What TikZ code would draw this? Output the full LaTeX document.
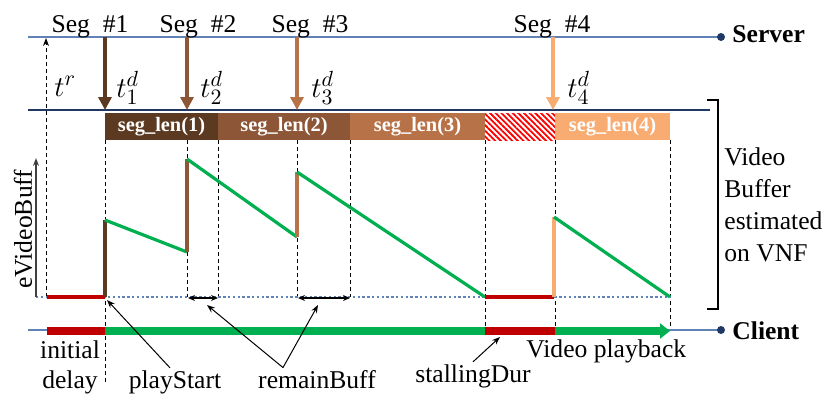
\documentclass[tikz,border=0pt]{standalone}
\usepackage{fontspec}
\setmainfont{Liberation Serif}
\usetikzlibrary{arrows.meta,patterns.meta}

\definecolor{segA}{RGB}{92,58,33}
\definecolor{segB}{RGB}{140,86,55}
\definecolor{segC}{RGB}{184,114,72}
\definecolor{segD}{RGB}{248,172,114}
\definecolor{playgreen}{RGB}{0,176,80}
\definecolor{stallred}{RGB}{192,0,0}
\definecolor{linkblue}{RGB}{96,130,180}
\definecolor{navy}{RGB}{31,56,100}

\begin{document}
\begin{tikzpicture}[x=0.5pt,y=-0.5pt,
  font=\fontsize{12.8}{16}\selectfont,
  every node/.style={inner sep=1pt},
  guide/.style={dash pattern=on 2pt off 1.5pt, line width=0.5pt},
  buff/.style={line width=1.6pt},
  segbar/.style={font=\fontsize{10.2}{12}\selectfont\bfseries, text=white},
  note/.style={-{Stealth[length=4pt,width=3pt]}, line width=0.5pt},
  tlabel/.style={anchor=base west, inner sep=0pt, font=\fontsize{15}{16}\selectfont},
  bold/.style={font=\fontsize{12.8}{16}\selectfont\bfseries}]
\useasboundingbox (0,0) rectangle (826,398);

% time lines
\coordinate (srvA) at (28,37);
\coordinate (srvB) at (721,37);
\coordinate (vnfA) at (28,110);
\coordinate (vnfB) at (710,110);
\coordinate (cliA) at (28,330);
\coordinate (cliB) at (721,330);
\draw[linkblue, line width=0.7pt] (srvA) -- (srvB);
\draw[navy, line width=0.6pt] (vnfA) -- (vnfB);
\draw[linkblue, line width=0.7pt] (cliA) -- (cliB);
\fill[navy] (srvB) circle (2pt);
\fill[navy] (cliB) circle (2pt);
\node[bold, anchor=base west] (server) at (730,42) {Server};
\node[bold, anchor=base west] (client) at (730,339) {Client};

% guides
\foreach \x/\yb in {105/385, 187/297, 218/297, 297/297, 350/297, 485/328, 555/328, 670/328}
  \draw[guide] (\x,140) -- (\x,\yb);
\coordinate (trA) at (46,297);
\coordinate (trB) at (46,38);
\draw[guide, -{Stealth[length=4pt,width=3pt]}] (trA) -- (trB);
\node[tlabel] (tr) at (54,96) {$t^{r}$};

% segment bars
\fill[segA] (105,113) rectangle node[segbar] (len1) {seg\_len(1)} (218,140);
\fill[segB] (218,113) rectangle node[segbar] (len2) {seg\_len(2)} (350,140);
\fill[segC] (350,113) rectangle node[segbar] (len3) {seg\_len(3)} (485,140);
\fill[pattern={Lines[angle=-45,distance=2pt,line width=0.9pt]}, pattern color=red] (485,113) rectangle (555,140);
\fill[segD] (555,113) rectangle node[segbar] (len4) {seg\_len(4)} (670,140);

% segment downloads
\foreach \x/\c/\n/\lx/\sx in {105/segA/1/116/90, 187/segB/2/200/198, 297/segC/3/311/310, 553/segD/4/567/552} {
  \coordinate (top\n) at (\x,37);
  \coordinate (bot\n) at (\x,110);
  \draw[\c, line width=2pt, -{Triangle[length=6.5pt,width=6.5pt]}] (top\n) -- (bot\n);
  \node[tlabel] (td\n) at (\lx,97) {$t_{\n}^{d}$};
  \node[anchor=base] (seg\n) at (\sx,32) {Seg\ \ \#\n};
}

% buffer axis
\coordinate (axA) at (36,297);
\coordinate (axB) at (36,158);
\coordinate (axC) at (670,297);
\draw[linkblue, line width=0.6pt, dash pattern=on 1.2pt off 1.2pt] (axA) -- (axC);
\draw[black!75, line width=0.6pt, -{Stealth[length=4pt,width=3pt]}] (axA) -- (axB);
\node[rotate=90, anchor=base] (ebuff) at (32,229) {eVideoBuff};

% estimated buffer
\coordinate (p0) at (47,297);
\coordinate (p1) at (105,297);
\coordinate (p2) at (105,220);
\coordinate (p3) at (187,252);
\coordinate (p4) at (187,159);
\coordinate (p5) at (297,237);
\coordinate (p6) at (297,172);
\coordinate (p7) at (485,297);
\coordinate (p8) at (554,297);
\coordinate (p9) at (554,217);
\coordinate (p10) at (670,297);
\foreach \a/\b/\c in {p0/p1/stallred, p1/p2/segA, p2/p3/playgreen, p3/p4/segB, p4/p5/playgreen,
  p5/p6/segC, p6/p7/playgreen, p7/p8/stallred, p8/p9/segD, p9/p10/playgreen}
  \draw[\c, buff] (\a) -- (\b);

% remaining buffer
\coordinate (rbA1) at (188,298);
\coordinate (rbB1) at (218,298);
\coordinate (rbA2) at (298,298);
\coordinate (rbB2) at (350,298);
\draw[{Stealth[length=3.5pt,width=3pt]}-{Stealth[length=3.5pt,width=3pt]}, line width=0.6pt] (rbA1) -- (rbB1);
\draw[{Stealth[length=3.5pt,width=3pt]}-{Stealth[length=3.5pt,width=3pt]}, line width=0.6pt] (rbA2) -- (rbB2);

% client playback
\coordinate (c0) at (47,331);
\coordinate (c1) at (105,331);
\coordinate (c2) at (485,331);
\coordinate (c3) at (555,331);
\coordinate (c4) at (670,331);
\draw[stallred, line width=4pt] (c0) -- (c1);
\draw[playgreen, line width=4pt] (c1) -- (c2);
\draw[stallred, line width=4pt] (c2) -- (c3);
\draw[playgreen, line width=4pt, -{Triangle[length=5pt,width=7.5pt]}] (c3) -- (c4);

% VNF bracket
\draw[line width=0.8pt] (707,100) -- (718,100) -- (718,309) -- (707,309);
\node[anchor=west, align=left, inner sep=0pt] (vnf) at (724,205) {Video\\Buffer\\estimated\\on VNF};

% annotations
\node[align=center, inner sep=0pt, font=\fontsize{12.8}{15}\selectfont] (delay) at (70,367) {initial\\delay};
\node[anchor=base] (play) at (175,388) {playStart};
\node[anchor=base] (remain) at (317,388) {remainBuff};
\node[anchor=base] (stall) at (473,382) {stallingDur};
\node[anchor=base west] (playback) at (524,357) {Video playback};
\coordinate (psTip) at (107,300);
\coordinate (rbTip1) at (207,305);
\coordinate (rbTip2) at (318,305);
\coordinate (sdTip) at (500,337);
\draw[note] ([xshift=-2.5pt]play.north) -- (psTip);
\draw[note] ([xshift=-17pt]remain.north) -- (rbTip1);
\draw[note] ([xshift=-17pt]remain.north) -- (rbTip2);
\draw[note] (stall.north) -- (sdTip);
\end{tikzpicture}
\end{document}
